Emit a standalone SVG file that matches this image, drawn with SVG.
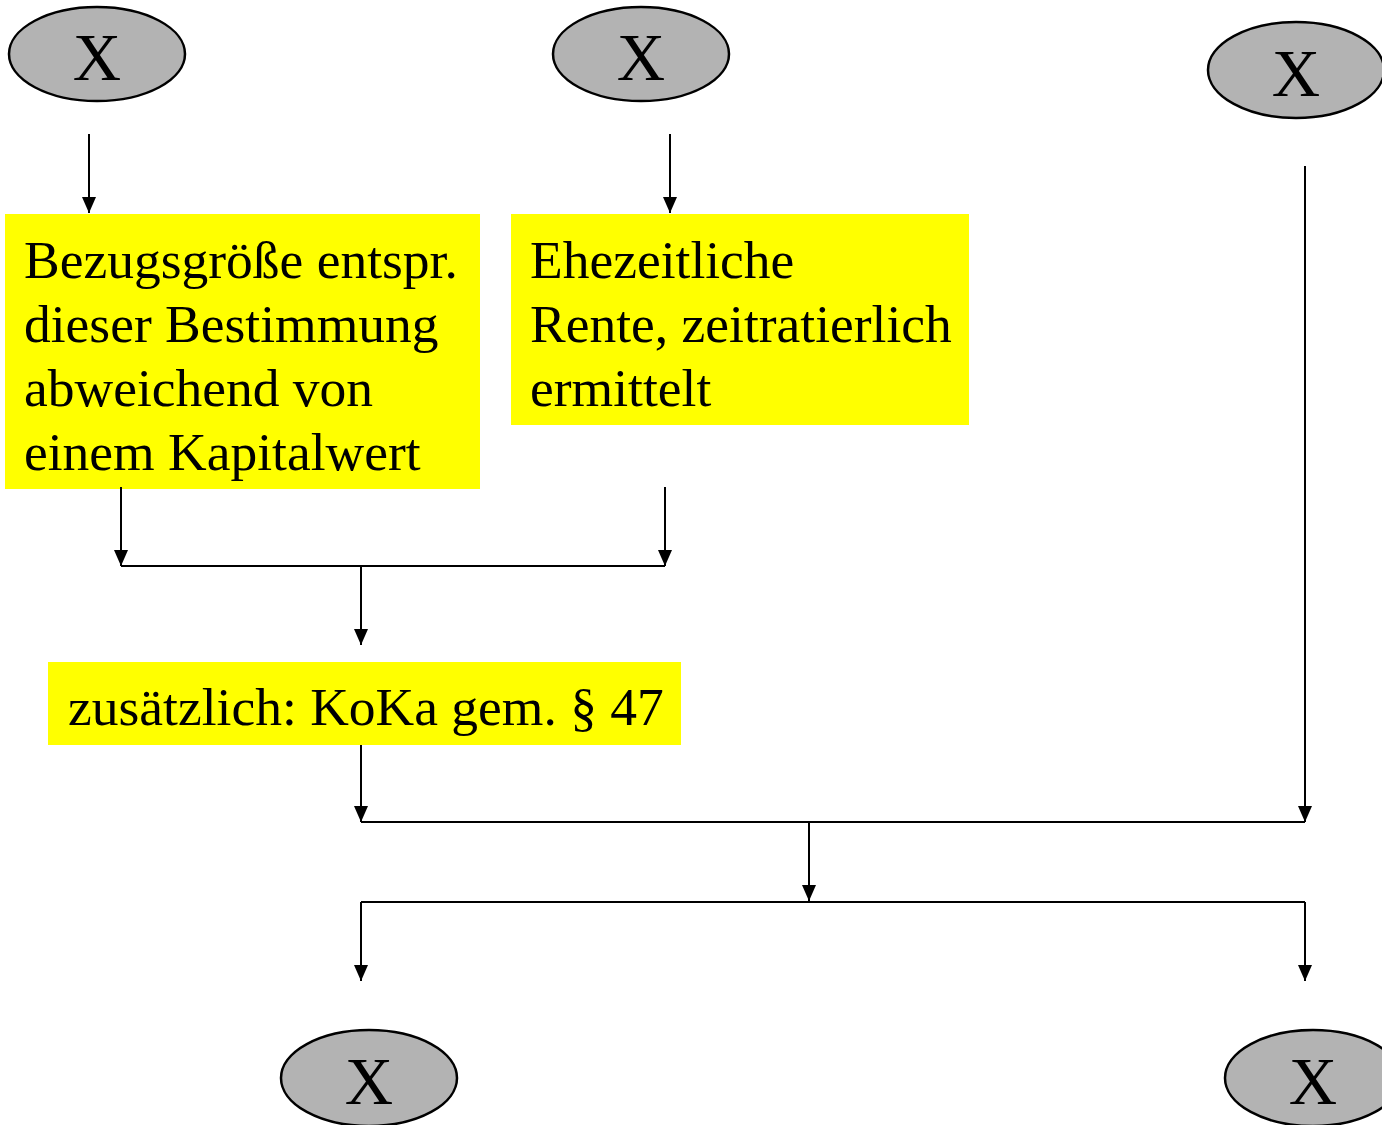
<svg xmlns="http://www.w3.org/2000/svg" width="1382" height="1125" viewBox="0 0 1382 1125">
<style>
.node ellipse{fill:#b3b3b3;stroke:#000;stroke-width:2.5}
.node text.x{font-family:"Liberation Serif",serif;font-size:67px;text-anchor:middle}
.box rect{fill:#ffff00}
.box text{font-family:"Liberation Serif",serif;font-size:53.5px;fill:#000}
#connectors line{stroke:#000;stroke-width:2}
</style>
<defs>
<marker id="arr" markerWidth="16" markerHeight="14" refX="16" refY="7" orient="auto" markerUnits="userSpaceOnUse" viewBox="0 0 16 14">
<path d="M0,0 L16,7 L0,14 Z" fill="#000"/>
</marker>
</defs>
<rect width="1382" height="1125" fill="#fff"/>
<g id="n1" class="node"><ellipse cx="97" cy="54" rx="88" ry="47"/><text class="x" x="97" y="80">X</text></g>
<g id="n2" class="node"><ellipse cx="641" cy="54" rx="88" ry="47"/><text class="x" x="641" y="80">X</text></g>
<g id="n3" class="node"><ellipse cx="1296" cy="70" rx="88" ry="48"/><text class="x" x="1296" y="96">X</text></g>
<g id="n4" class="node"><ellipse cx="369" cy="1078" rx="88" ry="48"/><text class="x" x="369" y="1104">X</text></g>
<g id="n5" class="node"><ellipse cx="1313" cy="1078" rx="88" ry="48"/><text class="x" x="1313" y="1104">X</text></g>
<g id="b1" class="box"><rect x="5" y="214" width="475" height="275"/>
<text x="24" y="278">Bezugsgröße entspr.</text>
<text x="24" y="342">dieser Bestimmung</text>
<text x="24" y="406">abweichend von</text>
<text x="24" y="470">einem Kapitalwert</text></g>
<g id="b2" class="box"><rect x="511" y="214" width="458" height="211"/>
<text x="530" y="278">Ehezeitliche</text>
<text x="530" y="342">Rente, zeitratierlich</text>
<text x="530" y="406">ermittelt</text></g>
<g id="b3" class="box"><rect x="48" y="662" width="633" height="83"/>
<text x="68" y="725">zusätzlich: KoKa gem. § 47</text></g>
<g id="connectors">
<line x1="89" y1="134" x2="89" y2="213" marker-end="url(#arr)"/>
<line x1="670" y1="134" x2="670" y2="213" marker-end="url(#arr)"/>
<line x1="1305" y1="166" x2="1305" y2="822" marker-end="url(#arr)"/>
<line x1="121" y1="487" x2="121" y2="566" marker-end="url(#arr)"/>
<line x1="665" y1="487" x2="665" y2="566" marker-end="url(#arr)"/>
<line x1="121" y1="566" x2="665" y2="566"/>
<line x1="361" y1="566" x2="361" y2="645" marker-end="url(#arr)"/>
<line x1="361" y1="745" x2="361" y2="822" marker-end="url(#arr)"/>
<line x1="361" y1="822" x2="1305" y2="822"/>
<line x1="809" y1="822" x2="809" y2="901" marker-end="url(#arr)"/>
<line x1="361" y1="902" x2="1305" y2="902"/>
<line x1="361" y1="902" x2="361" y2="981" marker-end="url(#arr)"/>
<line x1="1305" y1="902" x2="1305" y2="981" marker-end="url(#arr)"/>
</g>
</svg>
